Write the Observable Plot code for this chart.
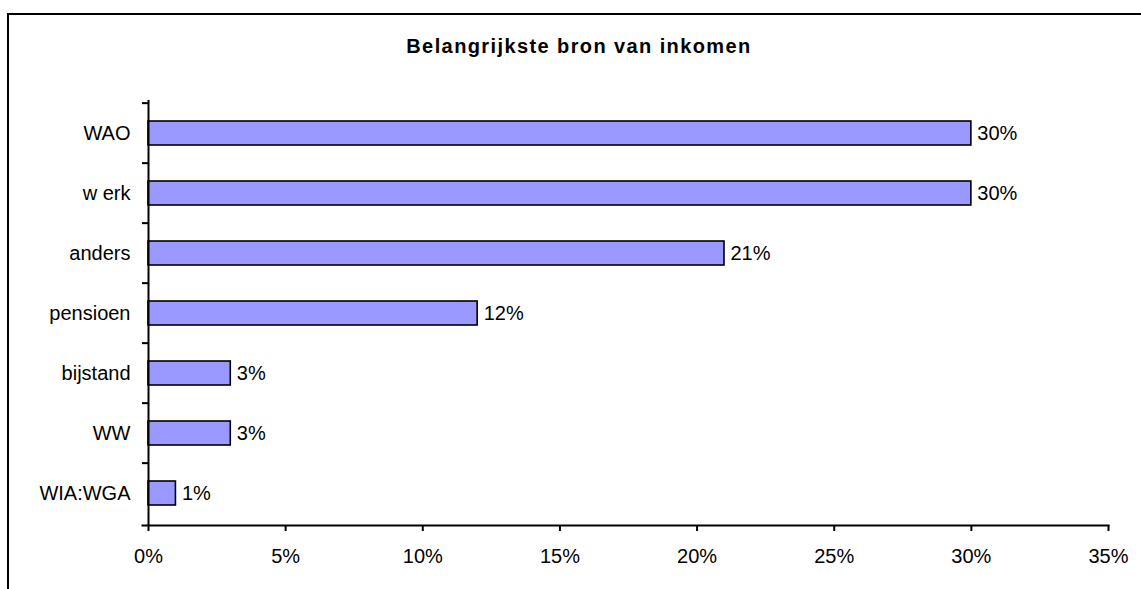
<!DOCTYPE html>
<html>
<head>
<meta charset="utf-8">
<script src="https://cdn.jsdelivr.net/npm/d3@7"></script>
<script src="https://cdn.jsdelivr.net/npm/@observablehq/plot@0.6"></script>
<style>
  html, body { margin: 0; padding: 0; background: #fff; }
  #wrap { position: relative; width: 1141px; height: 589px; overflow: hidden; font-family: "Liberation Sans", Arial, sans-serif; }
  #border { position: absolute; left: 7px; top: 13px; width: 3000px; height: 3000px; border-top: 2px solid #000; border-left: 2px solid #000; }
  #title { position: absolute; left: 0; width: 1158px; top: 35px; text-align: center; font-weight: bold; font-size: 20px; letter-spacing: 1.4px; color: #000; }
  #chart { position: absolute; left: 0; top: 0; }
</style>
</head>
<body>
<div id="wrap">
  <div id="border"></div>
  <div id="title">Belangrijkste bron van inkomen</div>
  <div id="chart"></div>
</div>
<script>
const categories = ["WAO", "w erk", "anders", "pensioen", "bijstand", "WW", "WIA:WGA"];
const values = [30, 30, 21, 12, 3, 3, 1];
const xTicks = [0, 5, 10, 15, 20, 25, 30, 35];

const data = categories.map((c, i) => ({cat: c, value: values[i]}));

const W = 1141, H = 589;
const mT = 100, mB = 64, mL = 148, mR = 33;
const step = (H - mT - mB) / categories.length;

const chart = Plot.plot({
  width: W,
  height: H,
  marginTop: mT,
  marginBottom: mB,
  marginLeft: mL,
  marginRight: mR,
  style: {fontFamily: '"Liberation Sans", Arial, sans-serif', fontSize: "20px", background: "transparent", color: "#000"},
  x: {domain: [0, 35], label: null},
  y: {domain: categories, paddingInner: 0.6, paddingOuter: 0.3, label: null},
  marks: [
    Plot.barX(data, {x: "value", y: "cat", fill: "#9999ff", stroke: "#000", strokeWidth: 1.6}),
    Plot.text(data, {x: "value", y: "cat", text: d => d.value + "%", textAnchor: "start", dx: 6, fill: "#000", fontSize: 20}),
    Plot.ruleX([0], {stroke: "#000", strokeWidth: 2}),
    Plot.ruleY(categories, {y: d => d, x1: 0, x2: 0, insetLeft: -6, dy: -step / 2, stroke: "#000", strokeWidth: 2}),
    Plot.frame({anchor: "bottom", insetLeft: -6, stroke: "#000", strokeWidth: 2}),
    Plot.axisX({ticks: xTicks, tickFormat: d => d + "%", tickSize: 6, tickPadding: 17, strokeWidth: 2, fontSize: 20, label: null}),
    Plot.axisY({tickSize: 0, tickPadding: 18, fontSize: 20, label: null})
  ]
});
document.getElementById("chart").appendChild(chart);
</script>
</body>
</html>
